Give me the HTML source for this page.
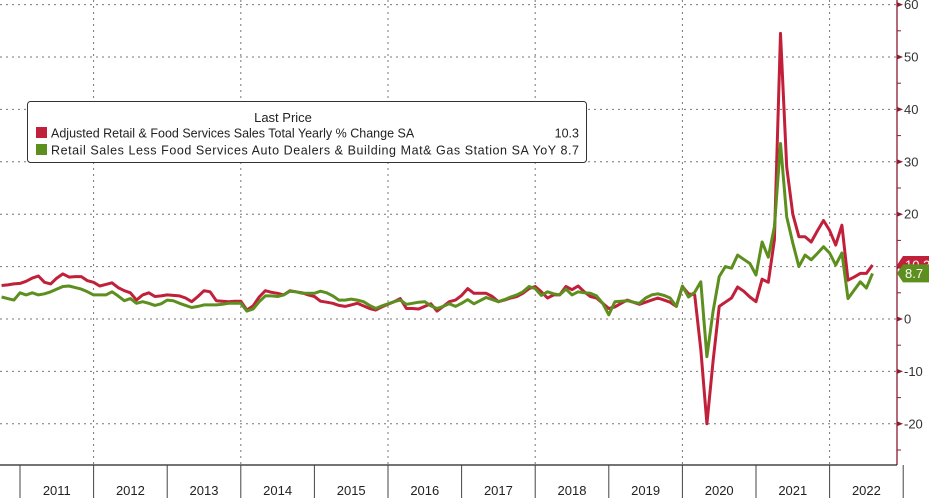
<!DOCTYPE html>
<html><head><meta charset="utf-8"><style>
html,body{margin:0;padding:0;background:#fff;}
svg{display:block;font-family:"Liberation Sans",sans-serif;}
</style></head><body>
<svg id="chart" width="929" height="498" viewBox="0 0 929 498">
<g id="grid"></g>
<g id="series"></g>
<g id="axes"></g>
<g>
<rect x="27.5" y="101.5" width="559" height="61" rx="3" fill="#fff" stroke="#333" stroke-width="1"/>
<text x="283" y="122" font-size="13" fill="#222" text-anchor="middle">Last Price</text>
<rect x="36" y="127" width="11" height="11" fill="#c0203a"/>
<text x="51" y="137.5" font-size="12.5" fill="#222">Adjusted Retail &amp; Food Services Sales Total Yearly % Change SA</text>
<text x="579" y="137.5" font-size="12.5" fill="#222" text-anchor="end">10.3</text>
<rect x="36" y="144" width="11" height="11" fill="#5c8f1e"/>
<text x="51" y="154.5" font-size="12.5" fill="#222" textLength="528">Retail Sales Less Food Services Auto Dealers &amp; Building Mat&amp; Gas Station SA YoY 8.7</text>
</g>
<g id="tags"></g>
</svg>
<script>
const years = ["2011","2012","2013","2014","2015","2016","2017","2018","2019","2020","2021","2022"];
const yTicks = [60,50,40,30,20,10,0,-10,-20];
const startMonthIndex = -4; // Sep 2010
const totalRetail = [6.4,6.5,6.7,6.8,
7.2,7.8,8.2,7.0,6.7,7.8,8.6,8.0,8.1,8.1,7.3,7.0,
6.3,6.6,6.9,6.0,5.4,5.0,3.6,4.6,5.0,4.3,4.4,4.6,
4.5,4.4,4.0,3.3,4.3,5.4,5.2,3.5,3.4,3.3,3.4,3.4,
1.7,2.5,4.2,5.4,5.1,4.9,4.6,5.4,5.2,5.0,4.6,4.3,
3.4,3.2,3.0,2.6,2.4,2.7,3.0,2.5,2.0,1.7,2.3,2.8,
3.3,3.9,2.0,2.0,1.9,2.4,2.9,1.5,2.4,3.3,3.6,4.5,
5.8,4.9,4.9,4.9,4.3,3.3,3.6,4.0,4.3,4.9,5.8,6.2,
5.2,4.0,4.6,4.6,6.2,5.6,6.3,5.2,4.3,4.0,3.0,2.0,
2.3,3.0,3.6,3.2,2.8,3.2,3.6,4.0,3.6,3.2,2.4,6.2,
4.8,4.6,-5.8,-20,-8,2.4,3.2,4.0,6.1,5.3,4.2,3.3,
7.6,7.0,15.1,54.5,29,20,15.7,15.7,14.7,16.8,18.8,16.9,
14.1,17.9,7.4,8.0,8.7,8.7,10.3];
const controlGroup = [4.2,3.9,3.6,5.0,
4.6,5.0,4.6,4.8,5.2,5.7,6.2,6.3,6.0,5.7,5.2,4.6,
4.6,4.6,5.2,4.4,3.5,3.9,3.0,3.3,3.0,2.6,2.9,3.6,
3.5,3.0,2.6,2.2,2.4,2.7,2.7,2.7,2.8,3.0,3.0,3.0,
1.5,1.9,3.3,4.4,4.4,4.3,4.6,5.3,5.2,4.9,4.9,4.9,
5.3,5.0,4.4,3.6,3.6,3.8,3.6,3.3,2.6,2.0,2.5,2.9,
3.3,3.6,2.8,3.0,3.2,3.3,2.5,2.0,2.4,2.9,2.4,3.0,
3.7,2.9,3.5,4.1,3.7,3.3,3.7,4.2,4.6,5.2,6.2,5.8,
4.5,5.2,4.8,4.6,5.7,4.6,5.2,5.0,4.9,4.4,3.0,0.8,
3.3,3.4,3.5,3.2,3.0,4.0,4.6,4.8,4.5,4.0,2.4,6.3,
4.2,5.1,7.1,-7.2,1.5,8.1,10.0,9.7,12.2,11.4,10.6,8.4,
14.7,11.8,17.6,33.5,19.5,14.5,10.0,12.2,11.3,12.5,13.8,12.6,
10.3,12.6,3.9,5.5,7.1,5.9,8.7];
const lastValues = ["10.3","8.7"];

const NS="http://www.w3.org/2000/svg";
const X0=20, YW=73.6, MW=YW/12, PR=897, PB=465;
function xMonth(i){return X0+(i+1)*MW;}
function xYear(k){return X0+k*YW;}
function yVal(v){return 319-v*5.24;}
function mk(tag,attrs,parent){const e=document.createElementNS(NS,tag);for(const k in attrs)e.setAttribute(k,attrs[k]);parent.appendChild(e);return e;}
const grid=document.getElementById('grid'), series=document.getElementById('series'), axes=document.getElementById('axes'), tags=document.getElementById('tags');

yTicks.forEach(v=>{
  const l=mk('line',{x1:0,x2:PR,y1:yVal(v),y2:yVal(v),stroke:'#777','stroke-width':1,'stroke-dasharray':'2,4'},grid);
  
  
});
for(let k=1;k<=years.length;k+=2){
  const l=mk('line',{x1:xYear(k),x2:xYear(k),y1:0,y2:PB,stroke:'#777','stroke-width':1,'stroke-dasharray':'2,4'},grid);
  
  
}

function drawLine(vals,color,name){
  const pts=vals.map((v,j)=>xMonth(startMonthIndex+j).toFixed(1)+','+yVal(v).toFixed(1)).join(' ');
  const p=mk('polyline',{points:pts,fill:'none',stroke:color,'stroke-width':3,'stroke-linejoin':'round'},series);
  
  
}
drawLine(totalRetail,'#c0203a','total-retail-line');
drawLine(controlGroup,'#5c8f1e','control-group-line');

const ya=mk('line',{x1:PR,x2:PR,y1:0,y2:PB,stroke:'#8c1c30','stroke-width':1.3},axes);


const xa=mk('line',{x1:0,x2:PR,y1:PB,y2:PB,stroke:'#222','stroke-width':1.3},axes);


for(let v=-25;v<=60;v+=5){
  if(v%10!==0){
    const t=mk('line',{x1:PR,x2:PR+4,y1:yVal(v),y2:yVal(v),stroke:'#8c1c30','stroke-width':1},axes);
    
    
  }
}
yTicks.forEach(v=>{
  const y=yVal(v);
  const tr=mk('polygon',{points:`${PR},${y-2.5} ${PR+6},${y} ${PR},${y+2.5}`,fill:'#8c1c30'},axes);
  
  
  const t=mk('text',{x:PR+7,y:y+4.5,'font-size':13,fill:'#333'},axes);
  t.textContent=String(v);
  
  
});
for(let k=0;k<=years.length;k++){
  const l=mk('line',{x1:xYear(k),x2:xYear(k),y1:PB,y2:498,stroke:'#444','stroke-width':1},axes);
  
  
}
years.forEach((yr,k)=>{
  const t=mk('text',{x:xYear(k)+YW/2,y:495,'font-size':13,fill:'#222','text-anchor':'middle'},axes);
  t.textContent=yr;
  
  
});

function tag(v,label,color){
  const y=yVal(v);
  const p=mk('polygon',{points:`${PR},${y} ${PR+6},${y-9} 929,${y-9} 929,${y+9} ${PR+6},${y+9}`,fill:color},tags);
  
  
  const t=mk('text',{x:PR+8,y:y+4.5,'font-size':13,fill:'#fff'},tags);
  t.textContent=label;
  
  
}
tag(totalRetail[totalRetail.length-1],lastValues[0],'#c0203a');
tag(controlGroup[controlGroup.length-1],lastValues[1],'#5c8f1e');
</script>
</body></html>
